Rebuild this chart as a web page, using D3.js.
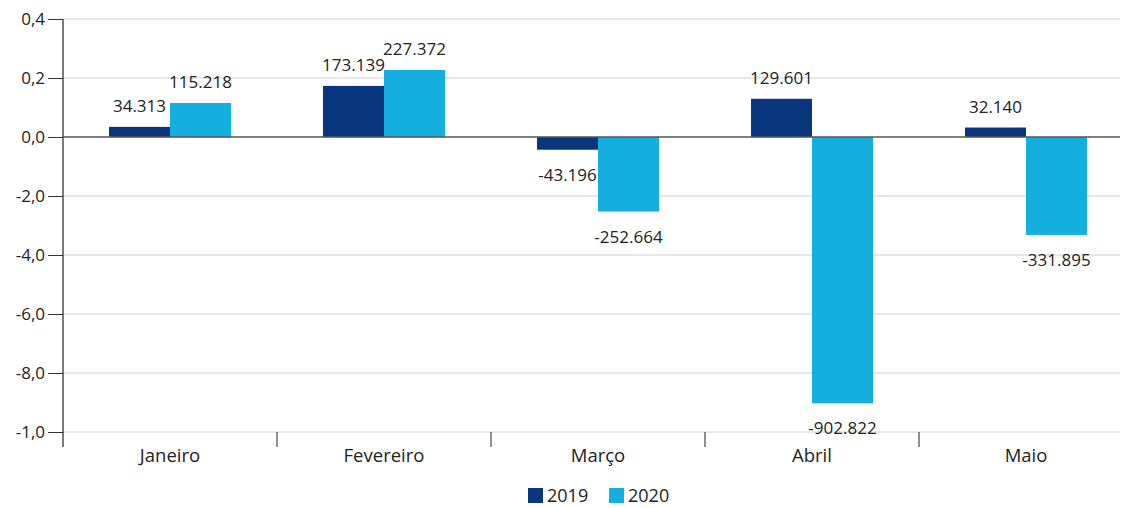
<!DOCTYPE html>
<html>
<head>
<meta charset="utf-8">
<script src="https://cdn.jsdelivr.net/npm/d3@7"></script>
<style>
  body { margin: 0; background: #fff; }
  text { font-family: "Open Sans", "Noto Sans", sans-serif; fill: #222; }
</style>
</head>
<body>
<svg id="chart" width="1129" height="508"></svg>
<script>
const months = ["Janeiro", "Fevereiro", "Março", "Abril", "Maio"];
const series = ["2019", "2020"];
const values2019 = [34313, 173139, -43196, 129601, 32140];
const values2020 = [115218, 227372, -252664, -902822, -331895];
const tickValues = [400000, 200000, 0, -200000, -400000, -600000, -800000, -1000000];
const tickLabels = ["0,4", "0,2", "0,0", "-2,0", "-4,0", "-6,0", "-8,0", "-1,0"];
const colors = ["#0a367d", "#14afdf"];

const svg = d3.select("#chart");
const width = 1129;
const margin = { top: 19, right: 9, bottom: 76, left: 63 };
const plotBottom = 432;

const x = d3.scaleBand()
  .domain(months)
  .range([margin.left, margin.left + 214 * 5])
  .paddingInner(0.43)
  .paddingOuter(0.215);

const xs = d3.scaleBand()
  .domain(series)
  .range([0, x.bandwidth()]);

const y = d3.scaleLinear()
  .domain([-1000000, 400000])
  .range([plotBottom, margin.top]);

// gridlines
svg.append("g")
  .selectAll("line")
  .data(tickValues.filter((d) => d !== 0))
  .join("line")
  .attr("x1", margin.left)
  .attr("x2", width - margin.right)
  .attr("y1", (d) => y(d))
  .attr("y2", (d) => y(d))
  .attr("stroke", "#d0d0d0")
  .attr("stroke-width", 1);

// y axis
const yAxis = svg.append("g")
  .attr("transform", `translate(${margin.left},0)`)
  .call(
    d3.axisLeft(y)
      .tickValues(tickValues)
      .tickFormat((d, i) => tickLabels[i])
      .tickSize(15)
      .tickPadding(3)
  );
yAxis.select(".domain").remove();
yAxis.selectAll(".tick line").attr("stroke", "#333");
yAxis.selectAll(".tick text")
  .attr("font-size", 17)
  .attr("fill", "#222")
  .style("font-family", "'Open Sans', sans-serif");

svg.append("line")
  .attr("x1", margin.left).attr("x2", margin.left)
  .attr("y1", margin.top).attr("y2", plotBottom + 15)
  .attr("stroke", "#222").attr("stroke-width", 1.2);

// bars
const data = months.map((m, i) => ({
  month: m,
  items: [
    { key: "2019", value: values2019[i], color: colors[0] },
    { key: "2020", value: values2020[i], color: colors[1] },
  ],
}));

const groups = svg.append("g")
  .selectAll("g")
  .data(data)
  .join("g")
  .attr("transform", (d) => `translate(${x(d.month)},0)`);

groups.selectAll("rect")
  .data((d) => d.items)
  .join("rect")
  .attr("x", (d) => xs(d.key))
  .attr("width", xs.bandwidth())
  .attr("y", (d) => y(Math.max(0, d.value)))
  .attr("height", (d) => Math.abs(y(d.value) - y(0)))
  .attr("fill", (d) => d.color);

const fmt = (v) => d3.format(",")(v).replace(/,/g, ".").replace("−", "-");

groups.selectAll("text.val")
  .data((d) => d.items)
  .join("text")
  .attr("class", "val")
  .attr("x", (d) => xs(d.key) + xs.bandwidth() / 2)
  .attr("y", (d) => d.value >= 0 ? y(d.value) - 15 : y(d.value) + 31)
  .attr("text-anchor", "middle")
  .attr("font-size", 17)
  .text((d) => fmt(d.value));

// zero line
svg.append("line")
  .attr("x1", margin.left).attr("x2", width - margin.right)
  .attr("y1", y(0)).attr("y2", y(0))
  .attr("stroke", "#555").attr("stroke-width", 1.3);

// x axis
const xAxis = svg.append("g")
  .attr("transform", `translate(0,${plotBottom})`);
xAxis.selectAll("line")
  .data(months.slice(1))
  .join("line")
  .attr("x1", (d) => x(d) - x.step() * x.paddingInner() / 2)
  .attr("x2", (d) => x(d) - x.step() * x.paddingInner() / 2)
  .attr("y1", 0).attr("y2", 15)
  .attr("stroke", "#222");
xAxis.selectAll("text")
  .data(months)
  .join("text")
  .attr("x", (d) => x(d) + x.bandwidth() / 2)
  .attr("y", 30)
  .attr("text-anchor", "middle")
  .attr("font-size", 18.5)
  .text((d) => d);

// legend
const legend = svg.append("g")
  .selectAll("g")
  .data(series)
  .join("g")
  .attr("transform", (d, i) => `translate(${528 + i * 81},488)`);
legend.append("rect")
  .attr("width", 15).attr("height", 15)
  .attr("fill", (d, i) => colors[i]);
legend.append("text")
  .attr("x", 19).attr("y", 14)
  .attr("font-size", 18)
  .text((d) => d);
</script>
</body>
</html>
